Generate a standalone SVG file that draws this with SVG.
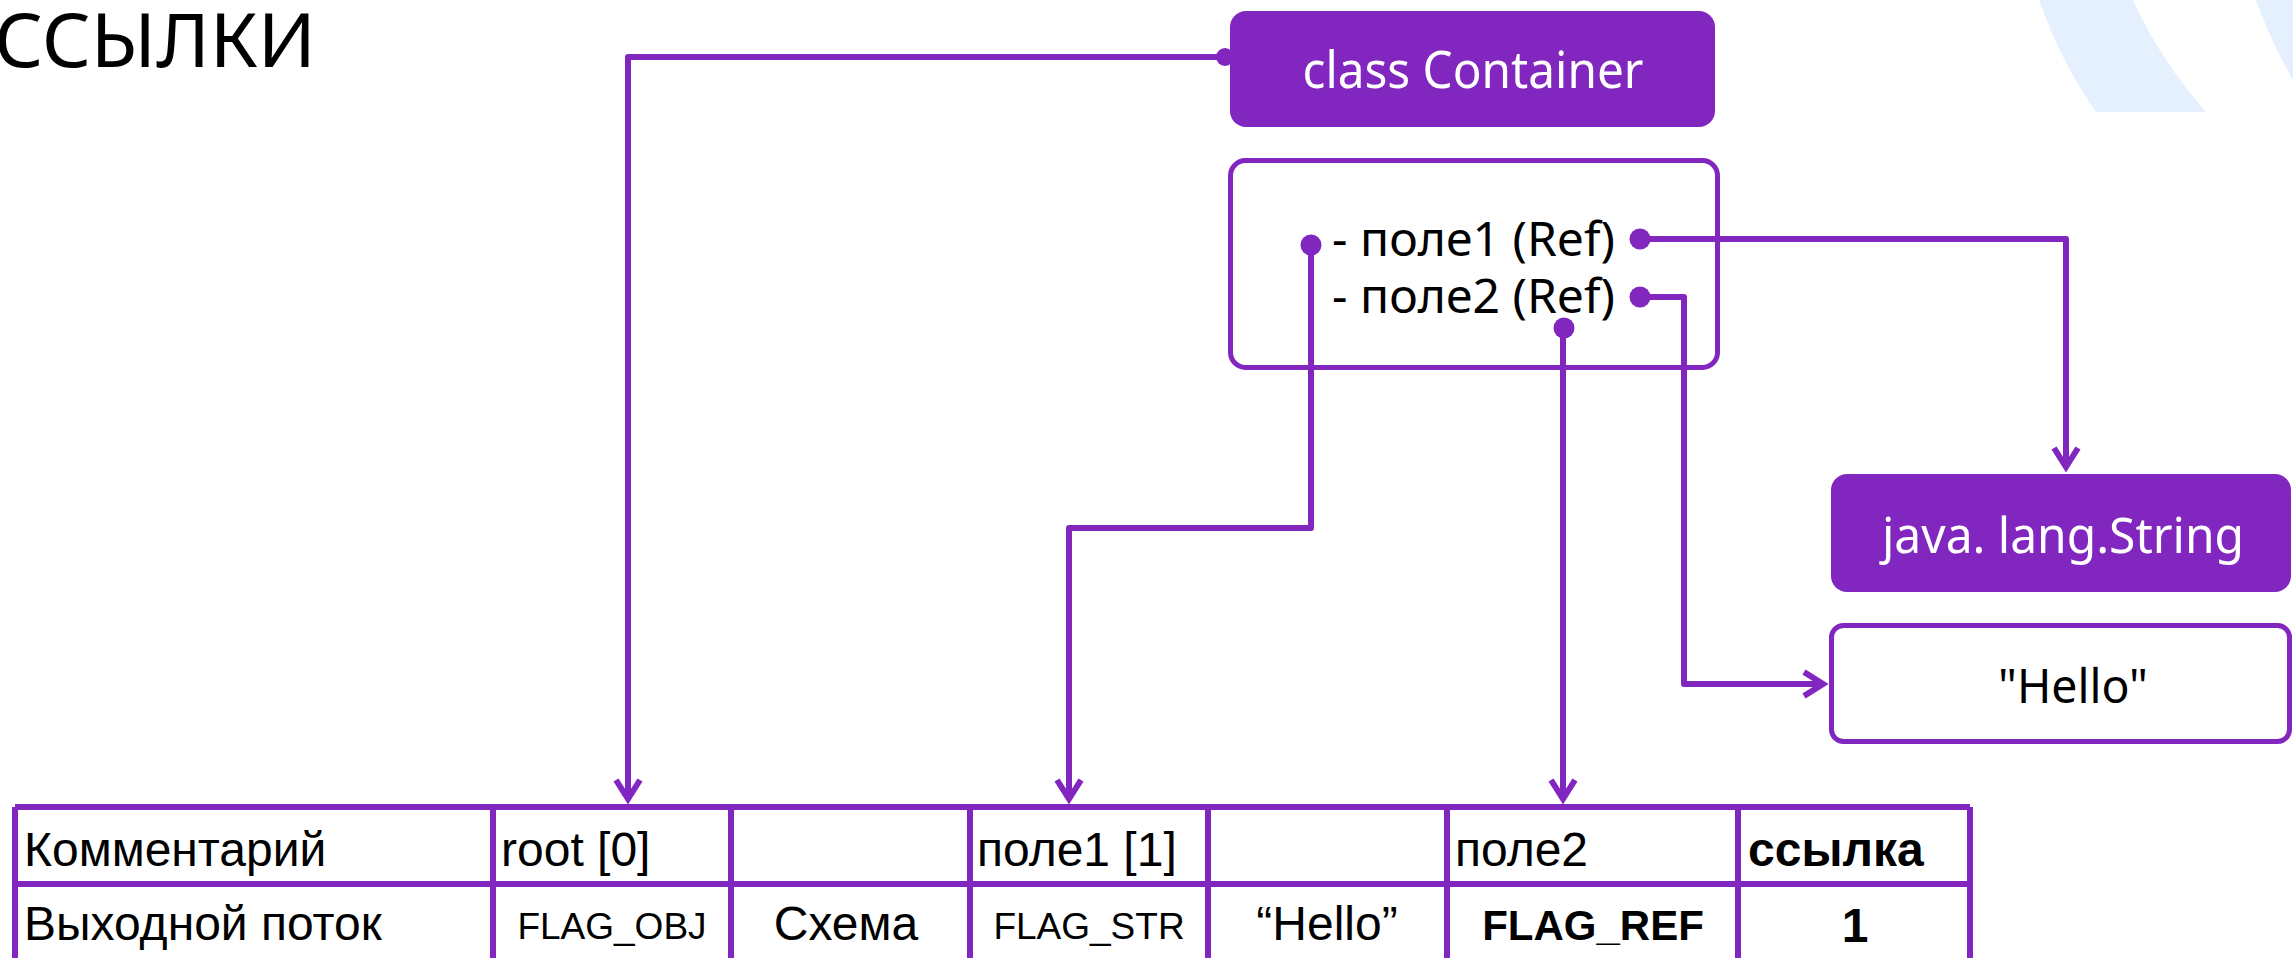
<svg xmlns="http://www.w3.org/2000/svg" width="2293" height="958" viewBox="0 0 2293 958">
  <defs>
    <style>
      .ui { font-family: "Noto Sans", "Open Sans", sans-serif; }
      .tbl { font-family: "Liberation Sans", Arial, sans-serif; fill: #000; }
      .wire { fill: none; stroke: #8226C0; stroke-width: 6; stroke-linejoin: round; }
      .dot { fill: #8226C0; }
      .grid { stroke: #8226C0; stroke-width: 6; fill: none; }
    </style>
    <marker id="arrow" markerUnits="userSpaceOnUse" viewBox="-26 -16 32 32" refX="0" refY="0" markerWidth="32" markerHeight="32" orient="auto">
      <path d="M-19,-12 L0,0 L-19,12" fill="none" stroke="#8226C0" stroke-width="6" stroke-linejoin="miter"/>
    </marker>
  </defs>

  <!-- decorative bands, top right -->
  <g id="decor" fill="#E4F0FE">
    <path d="M2039,0 L2133,0 Q2160,60 2206,112 L2096,112 Q2060,60 2039,0 Z"/>
    <path d="M2256,0 L2293,0 L2293,80 Q2270,40 2256,0 Z"/>
  </g>

  <!-- title -->
  <text id="title" class="ui" x="-6" y="67" font-size="74" textLength="322" lengthAdjust="spacingAndGlyphs" fill="#000">ССЫЛКИ</text>

  <!-- connectors -->
  <g id="connectors">
    <path class="wire" d="M1225,57 L628,57 L628,799" marker-end="url(#arrow)"/>
    <path class="wire" d="M1311,245 L1311,528 L1069,528 L1069,799" marker-end="url(#arrow)"/>
    <path class="wire" d="M1563,328 L1563,799" marker-end="url(#arrow)"/>
    <path class="wire" d="M1640,239 L2066,239 L2066,467" marker-end="url(#arrow)"/>
    <path class="wire" d="M1640,297 L1684,297 L1684,684 L1823,684" marker-end="url(#arrow)"/>
    <circle class="dot" cx="1225" cy="57" r="9"/>
    <circle class="dot" cx="1311" cy="245" r="10.5"/>
    <circle class="dot" cx="1640" cy="239" r="10.5"/>
    <circle class="dot" cx="1640" cy="297" r="10.5"/>
    <circle class="dot" cx="1564" cy="328" r="10.5"/>
  </g>

  <!-- class header -->
  <g id="node-container">
    <rect x="1230" y="11" width="485" height="116" rx="16" fill="#8226C0"/>
    <text class="ui" x="1473" y="88" font-size="51" text-anchor="middle" textLength="341" lengthAdjust="spacingAndGlyphs" fill="#fff">class Container</text>
  </g>

  <!-- fields of the class -->
  <g id="node-fields">
    <rect x="1230.5" y="160.5" width="487" height="207" rx="15" fill="none" stroke="#8226C0" stroke-width="5"/>
    <text class="ui" x="1332" y="256" font-size="47" textLength="283" lengthAdjust="spacingAndGlyphs" fill="#000">- поле1 (Ref)</text>
    <text class="ui" x="1332" y="313" font-size="47" textLength="283" lengthAdjust="spacingAndGlyphs" fill="#000">- поле2 (Ref)</text>
  </g>

  <!-- string type header -->
  <g id="node-string">
    <rect x="1831" y="474" width="460" height="118" rx="16" fill="#8226C0"/>
    <text class="ui" x="2063" y="553" font-size="49" text-anchor="middle" textLength="362" lengthAdjust="spacingAndGlyphs" fill="#fff">java. lang.String</text>
  </g>

  <!-- string value -->
  <g id="node-hello">
    <rect x="1831.5" y="625.5" width="458" height="116" rx="12" fill="#fff" stroke="#8226C0" stroke-width="5"/>
    <text class="ui" x="2073" y="703" font-size="47" text-anchor="middle" textLength="150" lengthAdjust="spacingAndGlyphs" fill="#000">"Hello"</text>
  </g>

  <!-- output stream table -->
  <g id="node-table">
    <path class="grid" d="M15,807 H1970 M15,884 H1970 M15,961 H1970 M15,807 V961 M493,807 V961 M731,807 V961 M970,807 V961 M1208,807 V961 M1447,807 V961 M1738,807 V961 M1970,807 V961"/>
    <text class="tbl" x="24" y="866" font-size="48">Комментарий</text>
    <text class="tbl" x="501" y="866" font-size="48">root [0]</text>
    <text class="tbl" x="977" y="866" font-size="48">поле1 [1]</text>
    <text class="tbl" x="1455" y="866" font-size="48">поле2</text>
    <text class="tbl" x="1748" y="866" font-size="48" font-weight="bold">ссылка</text>

    <text class="tbl" x="24" y="940" font-size="48">Выходной поток</text>
    <text class="tbl" x="612" y="939" font-size="37" text-anchor="middle">FLAG_OBJ</text>
    <text class="tbl" x="846" y="940" font-size="48" text-anchor="middle">Схема</text>
    <text class="tbl" x="1089" y="939" font-size="37" text-anchor="middle">FLAG_STR</text>
    <text class="tbl" x="1327" y="940" font-size="48" text-anchor="middle">“Hello”</text>
    <text class="tbl" x="1593" y="940" font-size="42" font-weight="bold" text-anchor="middle">FLAG_REF</text>
    <text class="tbl" x="1855" y="942" font-size="48" font-weight="bold" text-anchor="middle">1</text>
  </g>
</svg>
